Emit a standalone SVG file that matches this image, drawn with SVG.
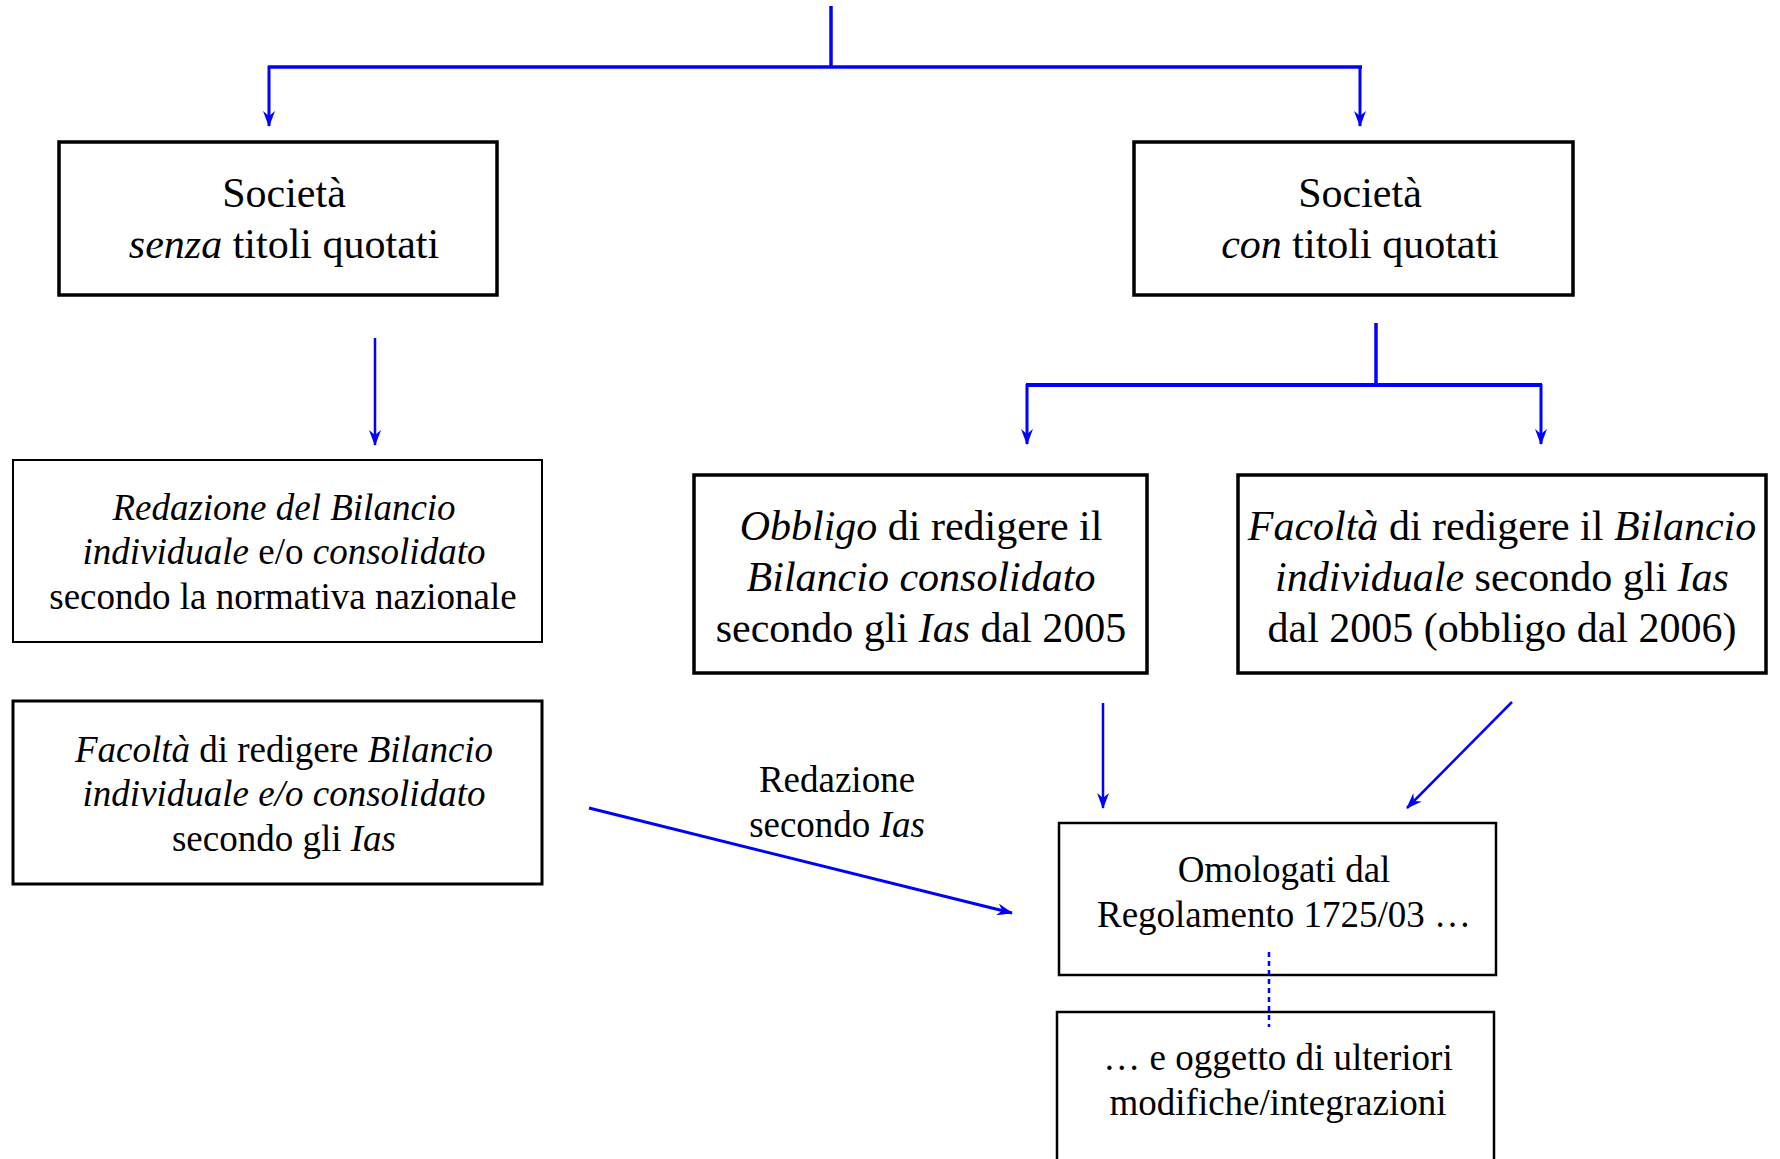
<svg xmlns="http://www.w3.org/2000/svg" width="1780" height="1159" viewBox="0 0 1780 1159">
<style>
.box{fill:#fff;stroke:#000}
.t{font-family:"Liberation Serif","Times New Roman",serif;fill:#000;text-anchor:middle}
.big{font-size:42px}
.sm{font-size:37px}
.i{font-style:italic}
.c{stroke:#0000ff;fill:none}
</style>
<defs>
<marker id="ah" markerUnits="userSpaceOnUse" markerWidth="16" markerHeight="12" viewBox="0 0 16 12" refX="15" refY="6" orient="auto">
<path d="M0,0 L16,6 L0,12 L5,6 Z" fill="#0000ff"/>
</marker>
</defs>
<rect width="1780" height="1159" fill="#fff"/>
<g id="n-senza">
<rect class="box" x="59" y="142" width="438" height="153" stroke-width="3.5"/>
<text class="t big" x="284" y="207">Società</text>
<text class="t big" x="284" y="258"><tspan class="i">senza</tspan> titoli quotati</text>
</g>
<g id="n-con">
<rect class="box" x="1134" y="142" width="439" height="153" stroke-width="3.5"/>
<text class="t big" x="1360" y="207">Società</text>
<text class="t big" x="1360" y="258"><tspan class="i">con</tspan> titoli quotati</text>
</g>
<g id="n-redazione">
<rect class="box" x="13" y="460" width="529" height="182" stroke-width="2"/>
<text class="t sm" x="284" y="520"><tspan class="i">Redazione del Bilancio</tspan></text>
<text class="t sm" x="284" y="564"><tspan class="i">individuale</tspan> e/o <tspan class="i">consolidato</tspan></text>
<text class="t sm" x="283" y="609">secondo la normativa nazionale</text>
</g>
<g id="n-facolta-left">
<rect class="box" x="13" y="701" width="529" height="183" stroke-width="3"/>
<text class="t sm" x="284" y="762"><tspan class="i">Facoltà</tspan> di redigere <tspan class="i">Bilancio</tspan></text>
<text class="t sm" x="284" y="806"><tspan class="i">individuale e/o consolidato</tspan></text>
<text class="t sm" x="284" y="851">secondo gli <tspan class="i">Ias</tspan></text>
</g>
<g id="n-obbligo">
<rect class="box" x="694" y="475" width="453" height="198" stroke-width="3.5"/>
<text class="t big" x="921" y="540"><tspan class="i">Obbligo</tspan> di redigere il</text>
<text class="t big" x="921" y="591"><tspan class="i">Bilancio consolidato</tspan></text>
<text class="t big" x="921" y="642">secondo gli <tspan class="i">Ias</tspan> dal 2005</text>
</g>
<g id="n-facolta-right">
<rect class="box" x="1238" y="475" width="528" height="198" stroke-width="3.5"/>
<text class="t big" x="1502" y="540"><tspan class="i">Facoltà</tspan> di redigere il <tspan class="i">Bilancio</tspan></text>
<text class="t big" x="1502" y="591"><tspan class="i">individuale</tspan> secondo gli <tspan class="i">Ias</tspan></text>
<text class="t big" x="1502" y="642">dal 2005 (obbligo dal 2006)</text>
</g>
<g id="label-redazione">
<text class="t sm" x="837" y="792">Redazione</text>
<text class="t sm" x="837" y="837">secondo <tspan class="i">Ias</tspan></text>
</g>
<g id="n-omologati">
<rect class="box" x="1059" y="823" width="437" height="152" stroke-width="2.5"/>
<text class="t sm" x="1284" y="882">Omologati dal</text>
<text class="t sm" x="1284" y="927">Regolamento 1725/03 …</text>
</g>
<g id="n-modifiche">
<rect class="box" x="1057" y="1012" width="437" height="170" stroke-width="2.5"/>
<text class="t sm" x="1278" y="1070">… e oggetto di ulteriori</text>
<text class="t sm" x="1278" y="1115">modifiche/integrazioni</text>
</g>
<g id="connectors">
<line class="c" x1="831" y1="6" x2="831" y2="67" stroke-width="3.5"/>
<line class="c" x1="268" y1="67" x2="1362" y2="67" stroke-width="3.5"/>
<line class="c" x1="269" y1="66" x2="269" y2="126" stroke-width="3" marker-end="url(#ah)"/>
<line class="c" x1="1360" y1="66" x2="1360" y2="126" stroke-width="3" marker-end="url(#ah)"/>
<line class="c" x1="375" y1="338" x2="375" y2="445" stroke-width="2.5" marker-end="url(#ah)"/>
<line class="c" x1="1376" y1="323" x2="1376" y2="385" stroke-width="3.5"/>
<line class="c" x1="1026" y1="385" x2="1542" y2="385" stroke-width="4"/>
<line class="c" x1="1027" y1="384" x2="1027" y2="444" stroke-width="3" marker-end="url(#ah)"/>
<line class="c" x1="1541" y1="384" x2="1541" y2="444" stroke-width="3" marker-end="url(#ah)"/>
<line class="c" x1="1103" y1="703" x2="1103" y2="808" stroke-width="2.5" marker-end="url(#ah)"/>
<line class="c" x1="1512" y1="702" x2="1407" y2="808" stroke-width="2.5" marker-end="url(#ah)"/>
<line class="c" x1="589" y1="808" x2="1012" y2="913" stroke-width="3" marker-end="url(#ah)"/>
<line class="c" x1="1269" y1="952" x2="1269" y2="1027" stroke-width="2.5" stroke-dasharray="5,4"/>
</g>
</svg>
